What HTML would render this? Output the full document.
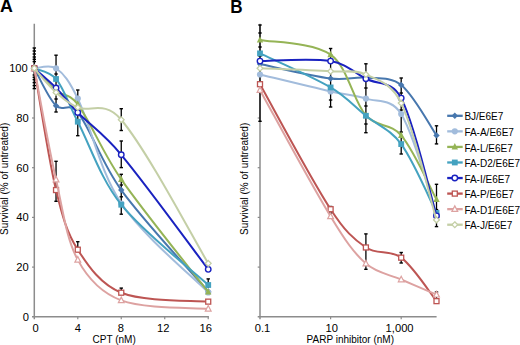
<!DOCTYPE html>
<html><head><meta charset="utf-8"><style>
html,body{margin:0;padding:0;background:#fff;width:520px;height:345px;overflow:hidden;}
svg{display:block;font-family:"Liberation Sans",sans-serif;}
</style></head><body>
<svg width="520" height="345" viewBox="0 0 520 345">
<line x1="34.30" y1="23.7" x2="34.30" y2="319.2" stroke="#8C8C8C" stroke-width="1.5"/>
<line x1="32.00" y1="316.80" x2="208.9" y2="316.80" stroke="#8C8C8C" stroke-width="1.5"/>
<line x1="32.00" y1="267.10" x2="34.30" y2="267.10" stroke="#8C8C8C" stroke-width="1.2"/>
<line x1="32.00" y1="217.40" x2="34.30" y2="217.40" stroke="#8C8C8C" stroke-width="1.2"/>
<line x1="32.00" y1="167.70" x2="34.30" y2="167.70" stroke="#8C8C8C" stroke-width="1.2"/>
<line x1="32.00" y1="118.00" x2="34.30" y2="118.00" stroke="#8C8C8C" stroke-width="1.2"/>
<line x1="32.00" y1="68.30" x2="34.30" y2="68.30" stroke="#8C8C8C" stroke-width="1.2"/>
<line x1="77.78" y1="316.80" x2="77.78" y2="319.20" stroke="#8C8C8C" stroke-width="1.2"/>
<line x1="121.26" y1="316.80" x2="121.26" y2="319.20" stroke="#8C8C8C" stroke-width="1.2"/>
<line x1="164.74" y1="316.80" x2="164.74" y2="319.20" stroke="#8C8C8C" stroke-width="1.2"/>
<line x1="208.22" y1="316.80" x2="208.22" y2="319.20" stroke="#8C8C8C" stroke-width="1.2"/>
<line x1="260.00" y1="23.7" x2="260.00" y2="319.2" stroke="#8C8C8C" stroke-width="1.5"/>
<line x1="257.70" y1="316.80" x2="436.6" y2="316.80" stroke="#8C8C8C" stroke-width="1.5"/>
<line x1="257.70" y1="267.10" x2="260.00" y2="267.10" stroke="#8C8C8C" stroke-width="1.2"/>
<line x1="257.70" y1="217.40" x2="260.00" y2="217.40" stroke="#8C8C8C" stroke-width="1.2"/>
<line x1="257.70" y1="167.70" x2="260.00" y2="167.70" stroke="#8C8C8C" stroke-width="1.2"/>
<line x1="257.70" y1="118.00" x2="260.00" y2="118.00" stroke="#8C8C8C" stroke-width="1.2"/>
<line x1="257.70" y1="68.30" x2="260.00" y2="68.30" stroke="#8C8C8C" stroke-width="1.2"/>
<line x1="330.60" y1="316.80" x2="330.60" y2="319.20" stroke="#8C8C8C" stroke-width="1.2"/>
<line x1="401.20" y1="316.80" x2="401.20" y2="319.20" stroke="#8C8C8C" stroke-width="1.2"/>
<line x1="34.30" y1="48.00" x2="34.30" y2="88.60" stroke="#000" stroke-width="1.3"/><line x1="32.60" y1="48.00" x2="36.00" y2="48.00" stroke="#000" stroke-width="1.4"/><line x1="32.60" y1="88.60" x2="36.00" y2="88.60" stroke="#000" stroke-width="1.4"/><line x1="32.60" y1="51.00" x2="36.00" y2="51.00" stroke="#000" stroke-width="1.4"/><line x1="32.60" y1="85.60" x2="36.00" y2="85.60" stroke="#000" stroke-width="1.4"/><line x1="32.60" y1="54.00" x2="36.00" y2="54.00" stroke="#000" stroke-width="1.4"/><line x1="32.60" y1="82.60" x2="36.00" y2="82.60" stroke="#000" stroke-width="1.4"/><line x1="32.60" y1="57.00" x2="36.00" y2="57.00" stroke="#000" stroke-width="1.4"/><line x1="32.60" y1="79.60" x2="36.00" y2="79.60" stroke="#000" stroke-width="1.4"/><line x1="32.60" y1="59.30" x2="36.00" y2="59.30" stroke="#000" stroke-width="1.4"/><line x1="32.60" y1="77.30" x2="36.00" y2="77.30" stroke="#000" stroke-width="1.4"/><line x1="32.60" y1="61.60" x2="36.00" y2="61.60" stroke="#000" stroke-width="1.4"/><line x1="32.60" y1="75.00" x2="36.00" y2="75.00" stroke="#000" stroke-width="1.4"/>
<line x1="56.04" y1="55.20" x2="56.04" y2="112.00" stroke="#000" stroke-width="1.3"/><line x1="54.34" y1="55.20" x2="57.74" y2="55.20" stroke="#000" stroke-width="1.4"/><line x1="54.34" y1="112.00" x2="57.74" y2="112.00" stroke="#000" stroke-width="1.4"/><line x1="54.34" y1="99.00" x2="57.74" y2="99.00" stroke="#000" stroke-width="1.4"/><line x1="54.34" y1="74.00" x2="57.74" y2="74.00" stroke="#000" stroke-width="1.4"/>
<line x1="56.04" y1="161.30" x2="56.04" y2="201.30" stroke="#000" stroke-width="1.3"/><line x1="54.34" y1="161.30" x2="57.74" y2="161.30" stroke="#000" stroke-width="1.4"/><line x1="54.34" y1="201.30" x2="57.74" y2="201.30" stroke="#000" stroke-width="1.4"/>
<line x1="77.78" y1="90.00" x2="77.78" y2="135.70" stroke="#000" stroke-width="1.3"/><line x1="76.08" y1="90.00" x2="79.48" y2="90.00" stroke="#000" stroke-width="1.4"/><line x1="76.08" y1="135.70" x2="79.48" y2="135.70" stroke="#000" stroke-width="1.4"/>
<line x1="77.78" y1="241.70" x2="77.78" y2="250.00" stroke="#000" stroke-width="1.3"/><line x1="76.08" y1="241.70" x2="79.48" y2="241.70" stroke="#000" stroke-width="1.4"/>
<line x1="121.26" y1="108.70" x2="121.26" y2="130.50" stroke="#000" stroke-width="1.3"/><line x1="119.56" y1="108.70" x2="122.96" y2="108.70" stroke="#000" stroke-width="1.4"/><line x1="119.56" y1="130.50" x2="122.96" y2="130.50" stroke="#000" stroke-width="1.4"/>
<line x1="121.26" y1="141.00" x2="121.26" y2="167.60" stroke="#000" stroke-width="1.3"/><line x1="119.56" y1="141.00" x2="122.96" y2="141.00" stroke="#000" stroke-width="1.4"/><line x1="119.56" y1="167.60" x2="122.96" y2="167.60" stroke="#000" stroke-width="1.4"/>
<line x1="121.26" y1="174.30" x2="121.26" y2="214.20" stroke="#000" stroke-width="1.3"/><line x1="119.56" y1="174.30" x2="122.96" y2="174.30" stroke="#000" stroke-width="1.4"/><line x1="119.56" y1="214.20" x2="122.96" y2="214.20" stroke="#000" stroke-width="1.4"/><line x1="119.56" y1="196.80" x2="122.96" y2="196.80" stroke="#000" stroke-width="1.4"/><line x1="119.56" y1="185.00" x2="122.96" y2="185.00" stroke="#000" stroke-width="1.4"/>
<line x1="121.26" y1="288.10" x2="121.26" y2="293.00" stroke="#000" stroke-width="1.3"/><line x1="119.56" y1="288.10" x2="122.96" y2="288.10" stroke="#000" stroke-width="1.4"/>
<line x1="208.22" y1="278.90" x2="208.22" y2="288.00" stroke="#000" stroke-width="1.3"/><line x1="206.52" y1="278.90" x2="209.92" y2="278.90" stroke="#000" stroke-width="1.4"/>
<path d="M34.30,68.30 C37.92,74.55 47.89,97.57 56.04,105.82 C62.38,112.24 69.49,101.58 77.78,112.28 C91.23,129.66 101.26,162.59 121.26,190.06 C144.74,222.31 193.73,274.56 208.22,291.45" fill="none" stroke="#4777AE" stroke-width="2.0" stroke-linecap="round"/>
<path d="M34.30,65.10 L37.50,68.30 L34.30,71.50 L31.10,68.30 z" fill="#4777AE"/>
<path d="M56.04,102.62 L59.24,105.82 L56.04,109.02 L52.84,105.82 z" fill="#4777AE"/>
<path d="M77.78,109.08 L80.98,112.28 L77.78,115.48 L74.58,112.28 z" fill="#4777AE"/>
<path d="M121.26,186.87 L124.46,190.06 L121.26,193.26 L118.06,190.06 z" fill="#4777AE"/>
<path d="M208.22,288.25 L211.42,291.45 L208.22,294.65 L205.02,291.45 z" fill="#4777AE"/>
<path d="M34.30,68.30 C37.92,68.30 49.56,63.78 56.04,68.30 C64.05,73.89 69.11,80.64 77.78,98.62 C90.85,125.70 99.92,171.77 121.26,203.48 C143.40,236.38 193.73,277.62 208.22,292.45" fill="none" stroke="#A2BCDC" stroke-width="2.0" stroke-linecap="round"/>
<circle cx="34.30" cy="68.30" r="3.10" fill="#A2BCDC"/>
<circle cx="56.04" cy="68.30" r="3.10" fill="#A2BCDC"/>
<circle cx="77.78" cy="98.62" r="3.10" fill="#A2BCDC"/>
<circle cx="121.26" cy="203.48" r="3.10" fill="#A2BCDC"/>
<circle cx="208.22" cy="292.45" r="3.10" fill="#A2BCDC"/>
<path d="M34.30,68.30 C37.92,72.03 48.51,84.43 56.04,90.67 C63.01,96.44 69.27,92.76 77.78,104.33 C91.01,122.33 101.63,151.14 121.26,179.38 C145.11,213.68 193.73,273.19 208.22,291.95" fill="none" stroke="#95B456" stroke-width="2.0" stroke-linecap="round"/>
<path d="M34.30,64.50 L37.50,70.90 L31.10,70.90 z" fill="#95B456"/>
<path d="M56.04,86.87 L59.24,93.27 L52.84,93.27 z" fill="#95B456"/>
<path d="M77.78,100.53 L80.98,106.93 L74.58,106.93 z" fill="#95B456"/>
<path d="M121.26,175.58 L124.46,181.98 L118.06,181.98 z" fill="#95B456"/>
<path d="M208.22,288.15 L211.42,294.55 L205.02,294.55 z" fill="#95B456"/>
<path d="M34.30,68.30 C37.92,70.08 49.75,71.25 56.04,78.99 C64.24,89.06 68.31,103.48 77.78,121.73 C90.05,145.39 100.53,178.78 121.26,204.73 C144.01,233.20 193.73,271.61 208.22,284.99" fill="none" stroke="#44A2C0" stroke-width="2.0" stroke-linecap="round"/>
<rect x="31.40" y="65.40" width="5.80" height="5.80" fill="#44A2C0"/>
<rect x="53.14" y="76.09" width="5.80" height="5.80" fill="#44A2C0"/>
<rect x="74.88" y="118.83" width="5.80" height="5.80" fill="#44A2C0"/>
<rect x="118.36" y="201.83" width="5.80" height="5.80" fill="#44A2C0"/>
<rect x="205.32" y="282.09" width="5.80" height="5.80" fill="#44A2C0"/>
<path d="M34.30,68.30 C37.92,71.57 48.96,80.73 56.04,87.93 C63.45,95.47 68.20,102.72 77.78,112.53 C89.94,125.00 103.06,132.90 121.26,154.78 C146.54,185.17 193.73,250.24 208.22,269.34" fill="none" stroke="#1A22C0" stroke-width="2.0" stroke-linecap="round"/>
<circle cx="34.30" cy="68.30" r="2.75" fill="#fff" stroke="#1A22C0" stroke-width="1.40"/>
<circle cx="56.04" cy="87.93" r="2.75" fill="#fff" stroke="#1A22C0" stroke-width="1.40"/>
<circle cx="77.78" cy="112.53" r="2.75" fill="#fff" stroke="#1A22C0" stroke-width="1.40"/>
<circle cx="121.26" cy="154.78" r="2.75" fill="#fff" stroke="#1A22C0" stroke-width="1.40"/>
<circle cx="208.22" cy="269.34" r="2.75" fill="#fff" stroke="#1A22C0" stroke-width="1.40"/>
<path d="M34.30,68.30 C37.92,88.59 47.86,155.94 56.04,190.06 C62.35,216.41 66.83,232.47 77.78,249.71 C88.57,266.68 101.06,284.65 121.26,292.70 C144.54,301.96 193.73,300.15 208.22,301.64" fill="none" stroke="#BD5553" stroke-width="2.0" stroke-linecap="round"/>
<rect x="31.80" y="65.80" width="5.00" height="5.00" fill="#fff" stroke="#BD5553" stroke-width="1.30"/>
<rect x="53.54" y="187.56" width="5.00" height="5.00" fill="#fff" stroke="#BD5553" stroke-width="1.30"/>
<rect x="75.28" y="247.21" width="5.00" height="5.00" fill="#fff" stroke="#BD5553" stroke-width="1.30"/>
<rect x="118.76" y="290.20" width="5.00" height="5.00" fill="#fff" stroke="#BD5553" stroke-width="1.30"/>
<rect x="205.72" y="299.14" width="5.00" height="5.00" fill="#fff" stroke="#BD5553" stroke-width="1.30"/>
<path d="M34.30,68.30 C37.92,86.85 48.35,145.73 56.04,179.63 C62.84,209.59 66.19,238.42 77.78,259.89 C87.93,278.68 101.18,292.86 121.26,300.40 C144.66,309.18 193.73,307.44 208.22,308.85" fill="none" stroke="#DDA2A1" stroke-width="2.0" stroke-linecap="round"/>
<path d="M34.30,65.00 L37.20,70.60 L31.40,70.60 z" fill="#fff" stroke="#DDA2A1" stroke-width="1.20"/>
<path d="M56.04,176.33 L58.94,181.93 L53.14,181.93 z" fill="#fff" stroke="#DDA2A1" stroke-width="1.20"/>
<path d="M77.78,256.59 L80.68,262.19 L74.88,262.19 z" fill="#fff" stroke="#DDA2A1" stroke-width="1.20"/>
<path d="M121.26,297.10 L124.16,302.70 L118.36,302.70 z" fill="#fff" stroke="#DDA2A1" stroke-width="1.20"/>
<path d="M208.22,305.55 L211.12,311.15 L205.32,311.15 z" fill="#fff" stroke="#DDA2A1" stroke-width="1.20"/>
<path d="M34.30,68.30 C37.92,72.32 48.50,85.60 56.04,92.40 C62.99,98.68 68.04,103.48 77.78,107.56 C89.78,112.59 104.53,99.76 121.26,119.74 C148.01,151.69 193.73,239.43 208.22,263.37" fill="none" stroke="#C4CFA6" stroke-width="2.0" stroke-linecap="round"/>
<path d="M34.30,65.40 L37.20,68.30 L34.30,71.20 L31.40,68.30 z" fill="#fff" stroke="#C4CFA6" stroke-width="1.30"/>
<path d="M56.04,89.50 L58.94,92.40 L56.04,95.30 L53.14,92.40 z" fill="#fff" stroke="#C4CFA6" stroke-width="1.30"/>
<path d="M77.78,104.66 L80.68,107.56 L77.78,110.46 L74.88,107.56 z" fill="#fff" stroke="#C4CFA6" stroke-width="1.30"/>
<path d="M121.26,116.84 L124.16,119.74 L121.26,122.64 L118.36,119.74 z" fill="#fff" stroke="#C4CFA6" stroke-width="1.30"/>
<path d="M208.22,260.47 L211.12,263.37 L208.22,266.27 L205.32,263.37 z" fill="#fff" stroke="#C4CFA6" stroke-width="1.30"/>
<line x1="260.00" y1="25.00" x2="260.00" y2="121.30" stroke="#000" stroke-width="1.3"/><line x1="258.30" y1="25.00" x2="261.70" y2="25.00" stroke="#000" stroke-width="1.4"/><line x1="258.30" y1="121.30" x2="261.70" y2="121.30" stroke="#000" stroke-width="1.4"/><line x1="258.30" y1="33.00" x2="261.70" y2="33.00" stroke="#000" stroke-width="1.4"/><line x1="258.30" y1="47.00" x2="261.70" y2="47.00" stroke="#000" stroke-width="1.4"/><line x1="258.30" y1="56.00" x2="261.70" y2="56.00" stroke="#000" stroke-width="1.4"/><line x1="258.30" y1="86.00" x2="261.70" y2="86.00" stroke="#000" stroke-width="1.4"/>
<line x1="330.60" y1="48.50" x2="330.60" y2="107.00" stroke="#000" stroke-width="1.3"/><line x1="328.90" y1="48.50" x2="332.30" y2="48.50" stroke="#000" stroke-width="1.4"/><line x1="328.90" y1="107.00" x2="332.30" y2="107.00" stroke="#000" stroke-width="1.4"/><line x1="328.90" y1="100.00" x2="332.30" y2="100.00" stroke="#000" stroke-width="1.4"/><line x1="328.90" y1="55.00" x2="332.30" y2="55.00" stroke="#000" stroke-width="1.4"/>
<line x1="330.60" y1="206.50" x2="330.60" y2="213.00" stroke="#000" stroke-width="1.3"/><line x1="328.90" y1="206.50" x2="332.30" y2="206.50" stroke="#000" stroke-width="1.4"/><line x1="328.90" y1="213.00" x2="332.30" y2="213.00" stroke="#000" stroke-width="1.4"/>
<line x1="365.90" y1="63.80" x2="365.90" y2="132.70" stroke="#000" stroke-width="1.3"/><line x1="364.20" y1="63.80" x2="367.60" y2="63.80" stroke="#000" stroke-width="1.4"/><line x1="364.20" y1="132.70" x2="367.60" y2="132.70" stroke="#000" stroke-width="1.4"/><line x1="364.20" y1="88.00" x2="367.60" y2="88.00" stroke="#000" stroke-width="1.4"/><line x1="364.20" y1="106.00" x2="367.60" y2="106.00" stroke="#000" stroke-width="1.4"/><line x1="364.20" y1="124.00" x2="367.60" y2="124.00" stroke="#000" stroke-width="1.4"/>
<line x1="365.90" y1="233.90" x2="365.90" y2="269.30" stroke="#000" stroke-width="1.3"/><line x1="364.20" y1="233.90" x2="367.60" y2="233.90" stroke="#000" stroke-width="1.4"/><line x1="364.20" y1="269.30" x2="367.60" y2="269.30" stroke="#000" stroke-width="1.4"/>
<line x1="401.20" y1="78.00" x2="401.20" y2="154.00" stroke="#000" stroke-width="1.3"/><line x1="399.50" y1="78.00" x2="402.90" y2="78.00" stroke="#000" stroke-width="1.4"/><line x1="399.50" y1="154.00" x2="402.90" y2="154.00" stroke="#000" stroke-width="1.4"/><line x1="399.50" y1="93.00" x2="402.90" y2="93.00" stroke="#000" stroke-width="1.4"/><line x1="399.50" y1="110.00" x2="402.90" y2="110.00" stroke="#000" stroke-width="1.4"/><line x1="399.50" y1="132.00" x2="402.90" y2="132.00" stroke="#000" stroke-width="1.4"/>
<line x1="401.20" y1="252.50" x2="401.20" y2="263.00" stroke="#000" stroke-width="1.3"/><line x1="399.50" y1="252.50" x2="402.90" y2="252.50" stroke="#000" stroke-width="1.4"/><line x1="399.50" y1="263.00" x2="402.90" y2="263.00" stroke="#000" stroke-width="1.4"/>
<line x1="436.50" y1="125.80" x2="436.50" y2="143.90" stroke="#000" stroke-width="1.3"/><line x1="434.80" y1="125.80" x2="438.20" y2="125.80" stroke="#000" stroke-width="1.4"/><line x1="434.80" y1="143.90" x2="438.20" y2="143.90" stroke="#000" stroke-width="1.4"/>
<line x1="436.50" y1="184.30" x2="436.50" y2="226.60" stroke="#000" stroke-width="1.3"/><line x1="434.80" y1="184.30" x2="438.20" y2="184.30" stroke="#000" stroke-width="1.4"/><line x1="434.80" y1="226.60" x2="438.20" y2="226.60" stroke="#000" stroke-width="1.4"/><line x1="434.80" y1="209.60" x2="438.20" y2="209.60" stroke="#000" stroke-width="1.4"/>
<line x1="436.50" y1="292.00" x2="436.50" y2="300.00" stroke="#000" stroke-width="1.3"/><line x1="434.80" y1="292.00" x2="438.20" y2="292.00" stroke="#000" stroke-width="1.4"/>
<path d="M260.00,64.08 C271.77,66.48 310.53,75.90 330.60,78.49 C345.83,80.45 354.18,76.67 365.90,77.74 C377.71,78.82 390.67,76.35 401.20,84.95 C414.20,95.56 430.62,126.99 436.50,135.40" fill="none" stroke="#4777AE" stroke-width="2.0" stroke-linecap="round"/>
<path d="M260.00,60.88 L263.20,64.08 L260.00,67.28 L256.80,64.08 z" fill="#4777AE"/>
<path d="M330.60,75.29 L333.80,78.49 L330.60,81.69 L327.40,78.49 z" fill="#4777AE"/>
<path d="M365.90,74.54 L369.10,77.74 L365.90,80.94 L362.70,77.74 z" fill="#4777AE"/>
<path d="M401.20,81.75 L404.40,84.95 L401.20,88.15 L398.00,84.95 z" fill="#4777AE"/>
<path d="M436.50,132.20 L439.70,135.40 L436.50,138.59 L433.30,135.40 z" fill="#4777AE"/>
<path d="M260.00,74.51 C271.77,77.33 310.57,86.85 330.60,91.41 C345.87,94.89 354.29,94.90 365.90,98.62 C377.82,102.44 391.64,98.34 401.20,114.02 C415.17,136.94 430.62,197.69 436.50,214.42" fill="none" stroke="#A2BCDC" stroke-width="2.0" stroke-linecap="round"/>
<circle cx="260.00" cy="74.51" r="3.10" fill="#A2BCDC"/>
<circle cx="330.60" cy="91.41" r="3.10" fill="#A2BCDC"/>
<circle cx="365.90" cy="98.62" r="3.10" fill="#A2BCDC"/>
<circle cx="401.20" cy="114.02" r="3.10" fill="#A2BCDC"/>
<circle cx="436.50" cy="214.42" r="3.10" fill="#A2BCDC"/>
<path d="M260.00,39.97 C271.77,42.41 312.86,41.98 330.60,54.63 C348.16,67.16 352.87,100.60 365.90,115.52 C376.40,127.53 390.79,123.01 401.20,135.40 C414.32,151.00 430.62,188.82 436.50,199.51" fill="none" stroke="#95B456" stroke-width="2.0" stroke-linecap="round"/>
<path d="M260.00,36.17 L263.20,42.57 L256.80,42.57 z" fill="#95B456"/>
<path d="M330.60,50.83 L333.80,57.23 L327.40,57.23 z" fill="#95B456"/>
<path d="M365.90,111.72 L369.10,118.12 L362.70,118.12 z" fill="#95B456"/>
<path d="M401.20,131.59 L404.40,138.00 L398.00,138.00 z" fill="#95B456"/>
<path d="M436.50,195.71 L439.70,202.11 L433.30,202.11 z" fill="#95B456"/>
<path d="M260.00,53.39 C271.77,59.06 311.06,75.93 330.60,87.43 C346.36,96.72 354.13,106.32 365.90,115.76 C377.67,125.21 390.67,129.59 401.20,144.09 C414.20,161.98 430.62,201.45 436.50,212.93" fill="none" stroke="#44A2C0" stroke-width="2.0" stroke-linecap="round"/>
<rect x="257.10" y="50.49" width="5.80" height="5.80" fill="#44A2C0"/>
<rect x="327.70" y="84.53" width="5.80" height="5.80" fill="#44A2C0"/>
<rect x="363.00" y="112.86" width="5.80" height="5.80" fill="#44A2C0"/>
<rect x="398.30" y="141.19" width="5.80" height="5.80" fill="#44A2C0"/>
<rect x="433.60" y="210.03" width="5.80" height="5.80" fill="#44A2C0"/>
<path d="M260.00,61.09 C271.77,61.09 310.95,57.82 330.60,61.09 C346.25,63.70 354.18,72.59 365.90,78.74 C377.71,84.93 391.82,79.89 401.20,98.12 C415.35,125.61 430.62,196.28 436.50,215.91" fill="none" stroke="#1A22C0" stroke-width="2.0" stroke-linecap="round"/>
<circle cx="260.00" cy="61.09" r="2.75" fill="#fff" stroke="#1A22C0" stroke-width="1.40"/>
<circle cx="330.60" cy="61.09" r="2.75" fill="#fff" stroke="#1A22C0" stroke-width="1.40"/>
<circle cx="365.90" cy="78.74" r="2.75" fill="#fff" stroke="#1A22C0" stroke-width="1.40"/>
<circle cx="401.20" cy="98.12" r="2.75" fill="#fff" stroke="#1A22C0" stroke-width="1.40"/>
<circle cx="436.50" cy="215.91" r="2.75" fill="#fff" stroke="#1A22C0" stroke-width="1.40"/>
<path d="M260.00,84.20 C271.77,105.04 309.65,176.90 330.60,209.20 C344.95,231.32 353.32,238.83 365.90,247.47 C376.85,254.99 390.41,249.45 401.20,257.66 C413.94,267.35 430.62,293.90 436.50,301.14" fill="none" stroke="#BD5553" stroke-width="2.0" stroke-linecap="round"/>
<rect x="257.50" y="81.70" width="5.00" height="5.00" fill="#fff" stroke="#BD5553" stroke-width="1.30"/>
<rect x="328.10" y="206.70" width="5.00" height="5.00" fill="#fff" stroke="#BD5553" stroke-width="1.30"/>
<rect x="363.40" y="244.97" width="5.00" height="5.00" fill="#fff" stroke="#BD5553" stroke-width="1.30"/>
<rect x="398.70" y="255.16" width="5.00" height="5.00" fill="#fff" stroke="#BD5553" stroke-width="1.30"/>
<rect x="434.00" y="298.64" width="5.00" height="5.00" fill="#fff" stroke="#BD5553" stroke-width="1.30"/>
<path d="M260.00,90.17 C271.77,111.21 309.98,182.63 330.60,216.41 C345.28,240.45 353.16,252.23 365.90,263.62 C376.69,273.27 389.42,274.34 401.20,279.53 C412.95,284.69 430.62,292.16 436.50,294.68" fill="none" stroke="#DDA2A1" stroke-width="2.0" stroke-linecap="round"/>
<path d="M260.00,86.87 L262.90,92.47 L257.10,92.47 z" fill="#fff" stroke="#DDA2A1" stroke-width="1.20"/>
<path d="M330.60,213.11 L333.50,218.71 L327.70,218.71 z" fill="#fff" stroke="#DDA2A1" stroke-width="1.20"/>
<path d="M365.90,260.32 L368.80,265.92 L363.00,265.92 z" fill="#fff" stroke="#DDA2A1" stroke-width="1.20"/>
<path d="M401.20,276.23 L404.10,281.83 L398.30,281.83 z" fill="#fff" stroke="#DDA2A1" stroke-width="1.20"/>
<path d="M436.50,291.38 L439.40,296.98 L433.60,296.98 z" fill="#fff" stroke="#DDA2A1" stroke-width="1.20"/>
<path d="M260.00,68.30 C271.77,68.80 310.61,70.11 330.60,71.28 C345.91,72.18 354.71,69.47 365.90,74.51 C378.25,80.08 391.59,83.29 401.20,103.09 C415.12,131.75 430.62,200.42 436.50,219.89" fill="none" stroke="#C4CFA6" stroke-width="2.0" stroke-linecap="round"/>
<path d="M260.00,65.40 L262.90,68.30 L260.00,71.20 L257.10,68.30 z" fill="#fff" stroke="#C4CFA6" stroke-width="1.30"/>
<path d="M330.60,68.38 L333.50,71.28 L330.60,74.18 L327.70,71.28 z" fill="#fff" stroke="#C4CFA6" stroke-width="1.30"/>
<path d="M365.90,71.61 L368.80,74.51 L365.90,77.41 L363.00,74.51 z" fill="#fff" stroke="#C4CFA6" stroke-width="1.30"/>
<path d="M401.20,100.19 L404.10,103.09 L401.20,105.99 L398.30,103.09 z" fill="#fff" stroke="#C4CFA6" stroke-width="1.30"/>
<path d="M436.50,216.99 L439.40,219.89 L436.50,222.79 L433.60,219.89 z" fill="#fff" stroke="#C4CFA6" stroke-width="1.30"/>
<text x="-0.1" y="12.2" font-family="&quot;Liberation Sans&quot;, sans-serif" font-size="17.8" font-weight="bold">A</text>
<text x="230.3" y="12.6" font-family="&quot;Liberation Sans&quot;, sans-serif" font-size="18.0" font-weight="bold" transform="translate(230.3,0) scale(0.95,1) translate(-230.3,0)">B</text>
<text x="29.00" y="320.80" font-family="&quot;Liberation Sans&quot;, sans-serif" font-size="11.2" text-anchor="end">0</text>
<text x="28.80" y="271.10" font-family="&quot;Liberation Sans&quot;, sans-serif" font-size="11.2" text-anchor="end">20</text>
<text x="28.80" y="221.40" font-family="&quot;Liberation Sans&quot;, sans-serif" font-size="11.2" text-anchor="end">40</text>
<text x="28.80" y="171.70" font-family="&quot;Liberation Sans&quot;, sans-serif" font-size="11.2" text-anchor="end">60</text>
<text x="28.80" y="122.00" font-family="&quot;Liberation Sans&quot;, sans-serif" font-size="11.2" text-anchor="end">80</text>
<text x="27.80" y="72.30" font-family="&quot;Liberation Sans&quot;, sans-serif" font-size="11.2" text-anchor="end">100</text>
<text x="35.60" y="332.0" font-family="&quot;Liberation Sans&quot;, sans-serif" font-size="11.2" text-anchor="middle">0</text>
<text x="77.80" y="332.0" font-family="&quot;Liberation Sans&quot;, sans-serif" font-size="11.2" text-anchor="middle">4</text>
<text x="120.90" y="332.0" font-family="&quot;Liberation Sans&quot;, sans-serif" font-size="11.2" text-anchor="middle">8</text>
<text x="163.30" y="332.0" font-family="&quot;Liberation Sans&quot;, sans-serif" font-size="11.2" text-anchor="middle">12</text>
<text x="205.70" y="332.0" font-family="&quot;Liberation Sans&quot;, sans-serif" font-size="11.2" text-anchor="middle">16</text>
<text x="114.2" y="343.3" font-family="&quot;Liberation Sans&quot;, sans-serif" font-size="10" text-anchor="middle">CPT (nM)</text>
<text transform="translate(8.4,178.9) rotate(-90)" font-family="&quot;Liberation Sans&quot;, sans-serif" font-size="10" text-anchor="middle">Survivial (% of untreated)</text>
<text transform="translate(247.8,178.9) rotate(-90)" font-family="&quot;Liberation Sans&quot;, sans-serif" font-size="10" text-anchor="middle">Survivial (% of untreated)</text>
<text x="262.50" y="332.0" font-family="&quot;Liberation Sans&quot;, sans-serif" font-size="11.2" text-anchor="middle">0.1</text>
<text x="331.70" y="332.0" font-family="&quot;Liberation Sans&quot;, sans-serif" font-size="11.2" text-anchor="middle">10</text>
<text x="399.60" y="332.0" font-family="&quot;Liberation Sans&quot;, sans-serif" font-size="11.2" text-anchor="middle">1,000</text>
<text x="350.3" y="343.3" font-family="&quot;Liberation Sans&quot;, sans-serif" font-size="10" text-anchor="middle">PARP inhibitor (nM)</text>
<line x1="447.2" y1="115.80" x2="462.7" y2="115.80" stroke="#4777AE" stroke-width="2.3"/>
<path d="M454.80,112.60 L458.00,115.80 L454.80,119.00 L451.60,115.80 z" fill="#4777AE"/>
<text x="464.4" y="120.40" font-family="&quot;Liberation Sans&quot;, sans-serif" font-size="10">BJ/E6E7</text>
<line x1="447.2" y1="131.36" x2="462.7" y2="131.36" stroke="#A2BCDC" stroke-width="2.3"/>
<circle cx="454.80" cy="131.36" r="3.10" fill="#A2BCDC"/>
<text x="464.4" y="135.96" font-family="&quot;Liberation Sans&quot;, sans-serif" font-size="10">FA-A/E6E7</text>
<line x1="447.2" y1="146.92" x2="462.7" y2="146.92" stroke="#95B456" stroke-width="2.3"/>
<path d="M454.80,143.12 L458.00,149.52 L451.60,149.52 z" fill="#95B456"/>
<text x="464.4" y="151.52" font-family="&quot;Liberation Sans&quot;, sans-serif" font-size="10">FA-L/E6E7</text>
<line x1="447.2" y1="162.48" x2="462.7" y2="162.48" stroke="#44A2C0" stroke-width="2.3"/>
<rect x="451.90" y="159.58" width="5.80" height="5.80" fill="#44A2C0"/>
<text x="464.4" y="167.08" font-family="&quot;Liberation Sans&quot;, sans-serif" font-size="10">FA-D2/E6E7</text>
<line x1="447.2" y1="178.04" x2="462.7" y2="178.04" stroke="#1A22C0" stroke-width="2.3"/>
<circle cx="454.80" cy="178.04" r="2.75" fill="#fff" stroke="#1A22C0" stroke-width="1.40"/>
<text x="464.4" y="182.64" font-family="&quot;Liberation Sans&quot;, sans-serif" font-size="10">FA-I/E6E7</text>
<line x1="447.2" y1="193.60" x2="462.7" y2="193.60" stroke="#BD5553" stroke-width="2.3"/>
<rect x="452.30" y="191.10" width="5.00" height="5.00" fill="#fff" stroke="#BD5553" stroke-width="1.30"/>
<text x="464.4" y="198.20" font-family="&quot;Liberation Sans&quot;, sans-serif" font-size="10">FA-P/E6E7</text>
<line x1="447.2" y1="209.16" x2="462.7" y2="209.16" stroke="#DDA2A1" stroke-width="2.3"/>
<path d="M454.80,205.86 L457.70,211.46 L451.90,211.46 z" fill="#fff" stroke="#DDA2A1" stroke-width="1.20"/>
<text x="464.4" y="213.76" font-family="&quot;Liberation Sans&quot;, sans-serif" font-size="10">FA-D1/E6E7</text>
<line x1="447.2" y1="224.72" x2="462.7" y2="224.72" stroke="#C4CFA6" stroke-width="2.3"/>
<path d="M454.80,221.82 L457.70,224.72 L454.80,227.62 L451.90,224.72 z" fill="#fff" stroke="#C4CFA6" stroke-width="1.30"/>
<text x="464.4" y="229.32" font-family="&quot;Liberation Sans&quot;, sans-serif" font-size="10">FA-J/E6E7</text>
</svg>
</body></html>
